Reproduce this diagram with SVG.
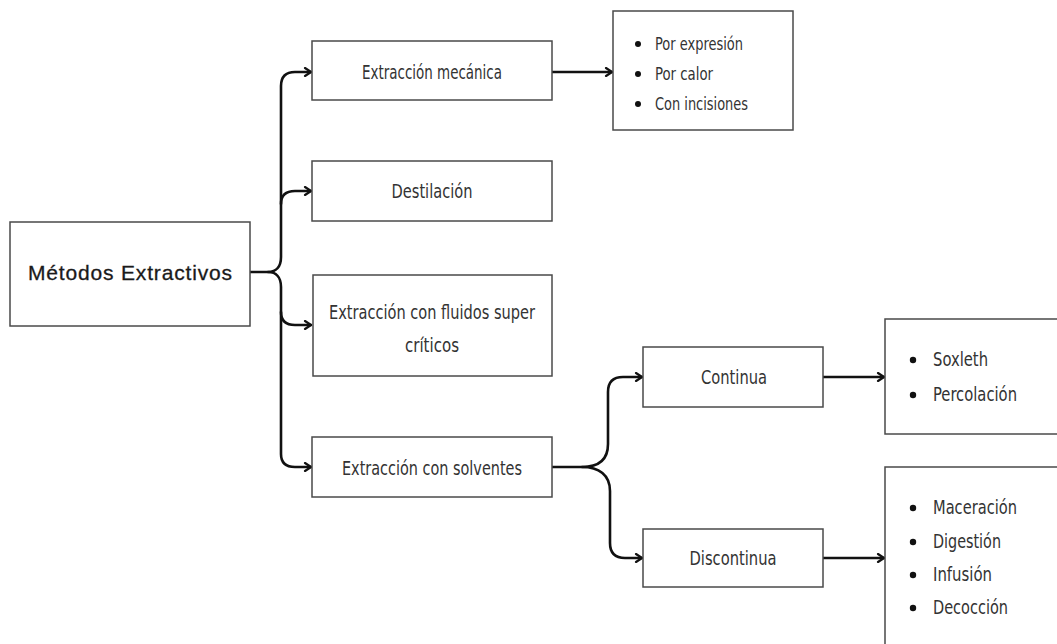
<svg xmlns="http://www.w3.org/2000/svg" width="1057" height="644" viewBox="0 0 1057 644">
  <defs>
    <style>
      .box { fill: #ffffff; stroke: #4a4a4a; stroke-width: 1.5; }
      .lbl { font-family: "DejaVu Sans Condensed", "Liberation Sans", sans-serif; font-stretch: condensed; fill: #333333; text-anchor: middle; dominant-baseline: central; font-size: 19px; }
      .item { font-family: "DejaVu Sans Condensed", "Liberation Sans", sans-serif; font-stretch: condensed; fill: #333333; dominant-baseline: central; font-size: 20px; }
      .root { font-family: "Liberation Sans", Arial, sans-serif; fill: #1a1a1a; stroke: #1a1a1a; stroke-width: 0.3; text-anchor: middle; dominant-baseline: central; font-size: 21px; }
      .conn { fill: none; stroke: #111111; stroke-width: 2.6; stroke-linecap: round; stroke-linejoin: round; }
      .dot { fill: #111111; }
    </style>
    <marker id="arr" viewBox="0 0 10 10" refX="9" refY="5" markerWidth="10" markerHeight="10" markerUnits="userSpaceOnUse" orient="auto">
      <path d="M3,1 L9,5 L3,9" fill="none" stroke="#111111" stroke-width="2.2" stroke-linecap="round" stroke-linejoin="round"/>
    </marker>
  </defs>
  <rect width="1057" height="644" fill="#ffffff"/>

  <g id="connectors">
    <path class="conn" d="M250,272 H268 C276,272 281,267 281,257 V86 Q281,72 295,72 H311" marker-end="url(#arr)"/>
    <path class="conn" d="M268,272 C276,272 281,277 281,287 V454 Q281,467 295,467 H311" marker-end="url(#arr)"/>
    <path class="conn" d="M281,204 Q281,191 295,191 H311" marker-end="url(#arr)"/>
    <path class="conn" d="M281,312 Q281,325 295,325 H311" marker-end="url(#arr)"/>
    <path class="conn" d="M552,72 H612" marker-end="url(#arr)"/>
    <path class="conn" d="M552,467 H582 C598,467 608,460 608,444 V392 Q608,377 623,377 H642" marker-end="url(#arr)"/>
    <path class="conn" d="M582,467 C599,467 610,475 610,491 V543 Q610,558 625,558 H642" marker-end="url(#arr)"/>
    <path class="conn" d="M823,377 H884" marker-end="url(#arr)"/>
    <path class="conn" d="M823,558 H884" marker-end="url(#arr)"/>
  </g>

  <g id="metodos">
    <rect class="box" x="10" y="222" width="240" height="104"/>
    <text class="root" x="130" y="272" textLength="204" lengthAdjust="spacing">Métodos Extractivos</text>
  </g>

  <g id="mecanica">
    <rect class="box" x="312" y="41" width="240" height="59"/>
    <text class="lbl" x="432" y="72" textLength="140" lengthAdjust="spacingAndGlyphs">Extracción mecánica</text>
  </g>

  <g id="mecanica-items">
    <rect class="box" x="613" y="11" width="180" height="119"/>
    <circle class="dot" cx="638" cy="44" r="3"/>
    <text class="item" x="655" y="43" style="font-size:18px" textLength="88" lengthAdjust="spacingAndGlyphs">Por expresión</text>
    <circle class="dot" cx="638" cy="74" r="3"/>
    <text class="item" x="655" y="73" style="font-size:18px" textLength="58" lengthAdjust="spacingAndGlyphs">Por calor</text>
    <circle class="dot" cx="638" cy="104" r="3"/>
    <text class="item" x="655" y="103" style="font-size:18px" textLength="93" lengthAdjust="spacingAndGlyphs">Con incisiones</text>
  </g>

  <g id="destilacion">
    <rect class="box" x="312" y="161" width="240" height="60"/>
    <text class="lbl" x="432" y="191" style="font-size:20px" textLength="81" lengthAdjust="spacingAndGlyphs">Destilación</text>
  </g>

  <g id="fluidos">
    <rect class="box" x="313" y="275" width="239" height="101"/>
    <text class="lbl" x="432" y="312" textLength="206" lengthAdjust="spacingAndGlyphs">Extracción con fluidos super</text>
    <text class="lbl" x="432" y="345" textLength="54" lengthAdjust="spacingAndGlyphs">críticos</text>
  </g>

  <g id="solventes">
    <rect class="box" x="312" y="437" width="240" height="60"/>
    <text class="lbl" x="432" y="468" textLength="180" lengthAdjust="spacingAndGlyphs">Extracción con solventes</text>
  </g>

  <g id="continua">
    <rect class="box" x="643" y="347" width="180" height="60"/>
    <text class="lbl" x="734" y="377" style="font-size:20px" textLength="66" lengthAdjust="spacingAndGlyphs">Continua</text>
  </g>

  <g id="continua-items">
    <rect class="box" x="885" y="319" width="190" height="115"/>
    <circle class="dot" cx="913" cy="360" r="3.2"/>
    <text class="item" x="933" y="359" textLength="55" lengthAdjust="spacingAndGlyphs">Soxleth</text>
    <circle class="dot" cx="913" cy="395" r="3.2"/>
    <text class="item" x="933" y="394" textLength="84" lengthAdjust="spacingAndGlyphs">Percolación</text>
  </g>

  <g id="discontinua">
    <rect class="box" x="643" y="529" width="180" height="58"/>
    <text class="lbl" x="733" y="558" style="font-size:20px" textLength="87" lengthAdjust="spacingAndGlyphs">Discontinua</text>
  </g>

  <g id="discontinua-items">
    <rect class="box" x="885" y="467" width="190" height="200"/>
    <circle class="dot" cx="913" cy="508" r="3.2"/>
    <text class="item" x="933" y="507" textLength="84" lengthAdjust="spacingAndGlyphs">Maceración</text>
    <circle class="dot" cx="913" cy="542" r="3.2"/>
    <text class="item" x="933" y="541" textLength="68" lengthAdjust="spacingAndGlyphs">Digestión</text>
    <circle class="dot" cx="913" cy="575" r="3.2"/>
    <text class="item" x="933" y="574" textLength="59" lengthAdjust="spacingAndGlyphs">Infusión</text>
    <circle class="dot" cx="913" cy="608" r="3.2"/>
    <text class="item" x="933" y="607" textLength="75" lengthAdjust="spacingAndGlyphs">Decocción</text>
  </g>
</svg>
